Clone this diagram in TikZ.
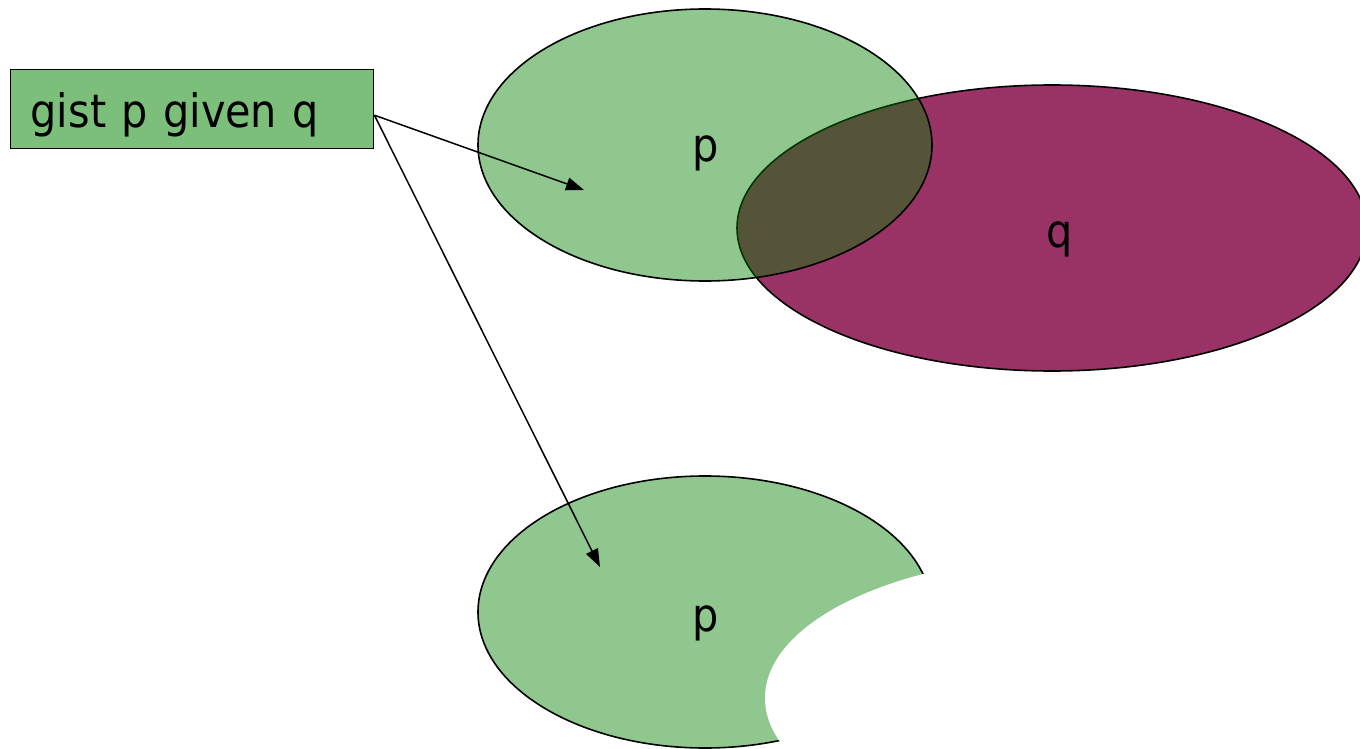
\documentclass[tikz,border=0pt]{standalone}
\usepackage{fontspec}
\setmainfont{DejaVu Sans}[FakeStretch=0.9]
\usetikzlibrary{shapes.geometric,arrows.meta,calc}
\definecolor{boxgreen}{RGB}{123,191,123}
\definecolor{pgreen}{RGB}{0,128,0}
\definecolor{qmaroon}{RGB}{153,51,102}
\begin{document}
\begin{tikzpicture}[x=1pt,y=-1pt,
  bigtext/.style={font=\fontsize{46pt}{55pt}\selectfont},
  outline/.style={draw=black,line width=1.6pt},
  setp/.style={ellipse,outline,fill=pgreen,fill opacity=0.44,draw opacity=1,inner sep=0pt,minimum width=454pt,minimum height=272pt},
  setq/.style={ellipse,outline,fill=qmaroon,inner sep=0pt,minimum width=630pt,minimum height=286pt},
  bite/.style={ellipse,fill=white,inner sep=0pt,minimum width=630pt,minimum height=286pt},
  gistbox/.style={rectangle,draw=black,line width=1.4pt,fill=boxgreen,bigtext,inner xsep=20pt,inner ysep=0pt,text width=323pt,align=left,text height=58pt,text depth=21pt,minimum height=79pt},
  lbl/.style={bigtext,anchor=base,inner sep=0pt},
  arr/.style={-{Triangle[length=18pt,width=13pt]},line width=1.5pt}
]
\useasboundingbox (0,0) rectangle (1360,749);
% top: q behind, p translucent in front
\node[setq] (q) at (1052,228) {};
\node[setp] (p) at (705,145) {};
% bottom: p with the bite taken out
\node[setp] (pb) at (705,612) {};
\node[bite] (cut) at (1080,698) {};
% labels
\node[lbl] (pt) at (706,161) {p};
\node[lbl] (qt) at (1060,247) {q};
\node[lbl] (pbt) at (706,631) {p};
% box
\node[gistbox,anchor=north west] (gist) at (10,69) {gist p given q};
% arrows
\coordinate (s) at ($(gist.east)+(0,6)$);
\coordinate (t1) at (584,190);
\coordinate (t2) at (600,567);
\draw[arr] (s) -- (t1);
\draw[arr] (s) -- (t2);
\end{tikzpicture}
\end{document}
